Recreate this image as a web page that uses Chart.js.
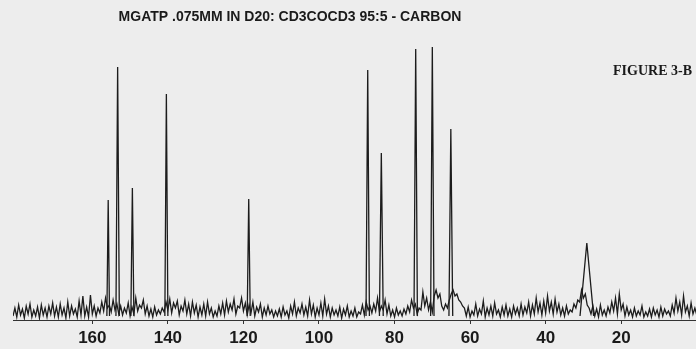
<!DOCTYPE html>
<html>
<head>
<meta charset="utf-8">
<script src="https://cdn.jsdelivr.net/npm/chart.js@4.4.1/dist/chart.umd.min.js"></script>
<style>
  html, body { margin: 0; padding: 0; background: #ededed; }
  #wrap { width: 696px; height: 349px; position: relative; }
</style>
</head>
<body>
<div id="wrap"><canvas id="spectrum"></canvas></div>
<script>
// chemical shift (ppm) ticks shown under the axis
const tickValues = [160, 140, 120, 100, 80, 60, 40, 20];

// resolved carbon peaks: shift, height, half width at base (ppm)
const peakShift = [155.8, 153.3, 149.4, 140.4, 118.6, 87.1, 83.5, 74.4, 70.0, 65.1, 29.1];
const peakHeight = [120, 253, 132, 226, 121, 250, 167, 271, 273, 191, 77];
const peakWidth = [0.35, 0.45, 0.4, 0.4, 0.4, 0.45, 0.5, 0.45, 0.45, 0.5, 1.8];

// baseline noise, sampled every 0.5 ppm from 181 ppm down to 0 ppm
const noiseStart = 181;
const noiseStep = 0.5;
const noise = [
  4,12,3,15,5,11,2,14,6,16,3,10,4,13,2,15,5,12,3,14,
  6,17,4,13,3,16,5,12,2,18,4,14,6,11,3,19,5,24,4,13,
  3,25,6,14,4,12,7,18,9,22,12,15,8,20,10,16,6,14,5,12,
  7,17,4,13,6,22,9,15,12,20,6,14,4,11,3,13,5,10,6,12,
  8,18,10,21,7,17,12,19,5,14,9,20,6,16,4,18,7,15,3,13,
  5,16,4,18,6,12,3,9,4,14,6,17,5,19,8,16,10,21,6,14,
  12,22,9,17,5,15,7,18,4,13,8,16,3,12,5,14,6,10,3,9,
  4,11,3,13,5,9,2,14,6,18,4,12,7,16,5,13,4,20,6,15,
  3,12,5,17,4,21,6,14,3,12,5,10,4,13,2,11,5,14,3,9,
  4,12,3,8,6,15,5,18,10,14,7,16,9,22,8,14,10,20,6,15,
  4,10,3,12,5,9,4,11,6,14,8,20,12,16,6,12,10,28,14,22,
  10,18,8,24,30,22,26,14,10,16,12,20,26,30,24,26,20,18,14,12,
  4,13,3,9,5,16,4,11,6,19,3,12,5,14,4,17,6,10,3,13,
  5,15,4,11,3,14,6,12,4,16,5,13,7,18,4,15,6,22,8,17,
  5,19,7,24,9,18,6,21,8,16,5,12,4,14,6,10,8,16,12,20,
  18,30,22,26,15,12,6,14,4,11,3,15,5,10,4,13,7,18,9,22,
  6,26,10,16,4,13,5,10,3,12,4,9,5,14,3,8,4,11,3,12,
  5,10,3,13,4,11,6,9,4,15,7,22,9,18,5,24,8,14,4,17,
  6,12,5
];

const titleText = "MGATP .075MM IN D20: CD3COCD3 95:5 - CARBON";
const figureLabel = "FIGURE 3-B";

const noisePoints = noise.map((v, i) => ({x: noiseStart - i * noiseStep, y: v}));

const peakPoints = [];
peakShift.forEach((s, i) => {
  peakPoints.push({x: s + peakWidth[i], y: 4});
  peakPoints.push({x: s, y: peakHeight[i]});
  peakPoints.push({x: s - peakWidth[i], y: 4});
  peakPoints.push({x: s - peakWidth[i] - 0.01, y: null});
});

const labelsPlugin = {
  id: "labels",
  afterDraw(chart) {
    const ctx = chart.ctx;
    ctx.save();
    ctx.fillStyle = "#1a1a1a";
    ctx.textBaseline = "middle";
    ctx.textAlign = "center";
    ctx.font = "bold 14px 'Liberation Sans', Arial, sans-serif";
    ctx.fillText(titleText, 290, 17);
    ctx.textAlign = "right";
    ctx.font = "bold 14px 'Liberation Serif', serif";
    ctx.fillText(figureLabel, 692, 71);
    ctx.restore();
  }
};

new Chart(document.getElementById("spectrum"), {
  type: "line",
  data: {
    datasets: [
      {
        data: noisePoints,
        borderColor: "#1c1c1c",
        borderWidth: 1.3,
        pointRadius: 0,
        tension: 0
      },
      {
        data: peakPoints,
        borderColor: "#1c1c1c",
        borderWidth: 1.3,
        pointRadius: 0,
        tension: 0,
        spanGaps: false
      }
    ]
  },
  options: {
    responsive: true,
    maintainAspectRatio: false,
    animation: false,
    layout: {padding: {top: 45, left: 13, right: 0, bottom: 0}},
    plugins: {legend: {display: false}, tooltip: {enabled: false}},
    scales: {
      x: {
        type: "linear",
        reverse: true,
        min: 0.2,
        max: 181,
        afterBuildTicks(scale) {
          scale.ticks = tickValues.map(v => ({value: v}));
        },
        afterFit(scale) {
          scale.height = 29;
        },
        grid: {drawOnChartArea: false, drawTicks: true, tickLength: 4, color: "#333"},
        border: {display: true, color: "#333", width: 1},
        ticks: {
          padding: 4,
          color: "#1a1a1a",
          font: {family: "'Liberation Sans', Arial, sans-serif", size: 17, weight: "bold"},
          maxRotation: 0
        }
      },
      y: {
        display: false,
        min: 0,
        max: 275
      }
    }
  },
  plugins: [labelsPlugin]
});
</script>
</body>
</html>
